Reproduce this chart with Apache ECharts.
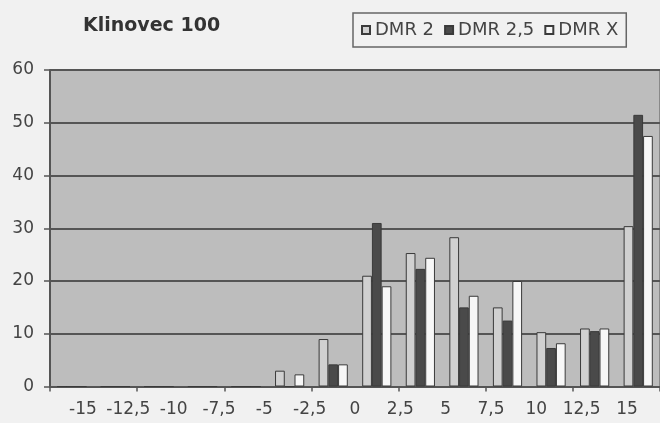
<!DOCTYPE html>
<html>
<head>
<meta charset="utf-8">
<script src="https://cdn.jsdelivr.net/npm/echarts@6/dist/echarts.min.js"></script>
<style>
  html, body { margin: 0; padding: 0; background: #f1f1f1; }
  #chart { width: 660px; height: 423px; }
</style>
</head>
<body>
<div id="chart"></div>
<script>
// Histogram bins of width 2.5, from -17.5 up to 17.5
const bins = ['-17,5 – -15', '-15 – -12,5', '-12,5 – -10', '-10 – -7,5', '-7,5 – -5',
              '-5 – -2,5', '-2,5 – 0', '0 – 2,5', '2,5 – 5', '5 – 7,5',
              '7,5 – 10', '10 – 12,5', '12,5 – 15', '15 – 17,5'];

// Counts per bin for each model
const dmr2  = [0, 0, 0, 0, 0, 3, 9, 21, 25.3, 28.3, 15, 10.3, 11, 30.4];
const dmr25 = [0, 0, 0, 0, 0, 0, 4.2, 31, 22.3, 15, 12.5, 7.3, 10.5, 51.5];
const dmrX  = [0, 0, 0, 0, 0, 2.3, 4.2, 19, 24.4, 17.2, 20, 8.2, 11, 47.5];

// Bin edge tick labels shown under the axis
const edgeMin = -15, edgeMax = 15, edgeStep = 2.5;

const seriesNames = ['DMR 2', 'DMR 2,5', 'DMR X'];
const seriesColors = ['#d0d0d0', '#4a4a4a', '#f7f7f7'];

const FONT = 'DejaVu Sans';
const chart = echarts.init(document.getElementById('chart'));

chart.setOption({
  backgroundColor: '#f1f1f1',
  animation: false,
  title: {
    text: 'Klinovec 100',
    left: 83, top: 17, padding: 0,
    textStyle: { fontFamily: FONT, fontSize: 19, fontWeight: 'bold', color: '#333' }
  },
  legend: {
    data: seriesNames,
    left: 353, top: 13,
    padding: [8, 8, 8, 8],
    itemGap: 10,
    itemWidth: 8, itemHeight: 8,
    borderColor: '#666', borderWidth: 1.5,
    icon: 'rect',
    textStyle: { fontFamily: FONT, fontSize: 18, color: '#444' }
  },
  grid: [
    { left: 50, top: 70, bottom: 36.5, width: 612.8, show: true,
      backgroundColor: '#bdbdbd', borderColor: '#555', borderWidth: 1 },
    { left: 83, top: 70, bottom: 36.5, width: 544, show: false }
  ],
  xAxis: [
    {
      type: 'category', gridIndex: 0, data: bins, boundaryGap: true,
      axisLine: { lineStyle: { color: '#555', width: 2 } },
      axisTick: { show: true, length: 5, inside: false, lineStyle: { color: '#555', width: 1.5 } },
      axisLabel: { show: false }
    },
    {
      type: 'value', gridIndex: 1, min: edgeMin, max: edgeMax, interval: edgeStep,
      axisLine: { show: false }, axisTick: { show: false }, splitLine: { show: false },
      axisLabel: {
        margin: 15, fontFamily: FONT, fontSize: 17, color: '#444',
        formatter: v => String(v).replace('.', ',')
      }
    }
  ],
  yAxis: [
    {
      type: 'value', gridIndex: 0, min: 0, max: 60, interval: 10,
      axisLine: { show: true, lineStyle: { color: '#555', width: 2 } },
      axisTick: { show: true, length: 6, inside: false, lineStyle: { color: '#555', width: 1.5 } },
      splitLine: { show: true, lineStyle: { color: '#555', width: 2 } },
      axisLabel: { margin: 16, fontFamily: FONT, fontSize: 17, color: '#444' }
    },
    { type: 'value', gridIndex: 1, show: false, min: 0, max: 60 }
  ],
  series: [dmr2, dmr25, dmrX].map((vals, i) => ({
    name: seriesNames[i],
    type: 'bar',
    xAxisIndex: 0, yAxisIndex: 0,
    data: vals,
    barGap: '0%',
    barCategoryGap: '33%',
    itemStyle: { color: seriesColors[i], borderColor: '#3a3a3a', borderWidth: 1 }
  }))
});
</script>
</body>
</html>
